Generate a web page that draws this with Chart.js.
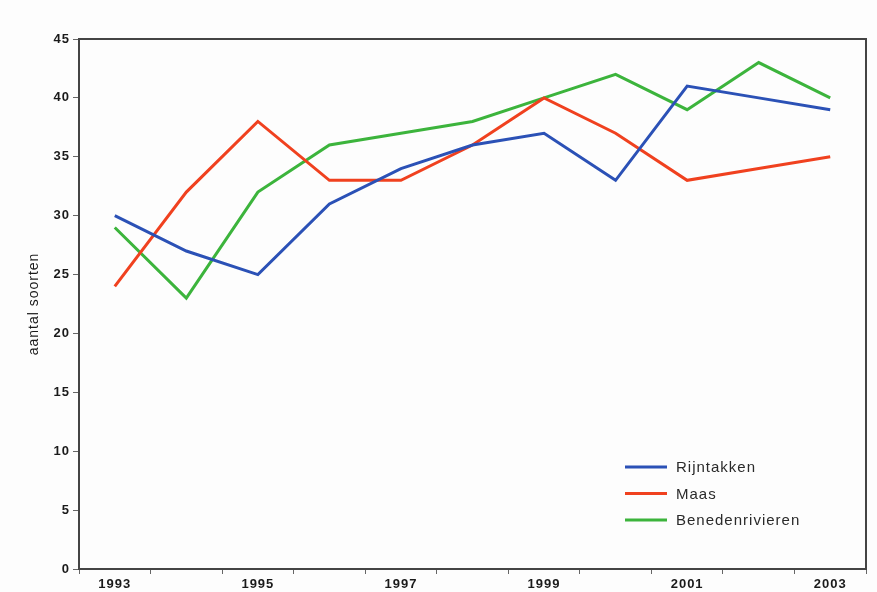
<!DOCTYPE html>
<html>
<head>
<meta charset="utf-8">
<script src="https://cdn.jsdelivr.net/npm/chart.js@4"></script>
<style>
    html, body { margin: 0; padding: 0; background: #fdfdfd; }
    #wrap { width: 877px; height: 592px; }
</style>
</head>
<body>
<div id="wrap"><canvas id="chart" width="877" height="592"></canvas></div>
<script>
// Years on the x axis
const years = ['1993', '1994', '1995', '1996', '1997', '1998', '1999', '2000', '2001', '2002', '2003'];

// Number of species per river area
const rijntakken = [30, 27, 25, 31, 34, 36, 37, 33, 41, 40, 39];
const maas = [24, 32, 38, 33, 33, 36, 40, 37, 33, 34, 35];
const benedenrivieren = [29, 23, 32, 36, 37, 38, 40, 42, 39, 43, 40];

const seriesNames = ['Rijntakken', 'Maas', 'Benedenrivieren'];
const seriesColors = ['#2b51b6', '#f0411f', '#3cb43c'];

const fontFamily = '"Liberation Sans", Arial, sans-serif';

// The original text is set wide, so add a little letter spacing
const spacing = {
    id: 'spacing',
    beforeInit(chart) { chart.ctx.letterSpacing = '1px'; },
    beforeDraw(chart) { chart.ctx.letterSpacing = '1px'; }
};

// Frame round the plot area
const framePlugin = {
    id: 'frame',
    afterDraw(chart) {
        const a = chart.chartArea;
        const ctx = chart.ctx;
        ctx.save();
        ctx.strokeStyle = '#444';
        ctx.lineWidth = 2;
        ctx.strokeRect(a.left, a.top, a.right - a.left, a.bottom - a.top);
        ctx.restore();
    }
};

// Legend drawn inside the plot, bottom right
const insideLegend = {
    id: 'insideLegend',
    afterDatasetsDraw(chart) {
        const ctx = chart.ctx;
        const a = chart.chartArea;
        const x0 = a.left + 546;
        const y0 = a.top + 428;
        ctx.save();
        ctx.font = '15px ' + fontFamily;
        ctx.textBaseline = 'middle';
        chart.data.datasets.forEach((ds, i) => {
            const y = y0 + i * 26.5;
            ctx.strokeStyle = ds.borderColor;
            ctx.lineWidth = 3;
            ctx.beginPath();
            ctx.moveTo(x0, y);
            ctx.lineTo(x0 + 42, y);
            ctx.stroke();
            ctx.fillStyle = '#2a2a2a';
            ctx.fillText(ds.label, x0 + 51, y + 1);
        });
        ctx.restore();
    }
};

const ctx = document.getElementById('chart').getContext('2d');

new Chart(ctx, {
    type: 'line',
    data: {
        labels: years,
        datasets: [rijntakken, maas, benedenrivieren].map((values, i) => ({
            label: seriesNames[i],
            data: values,
            borderColor: seriesColors[i],
            backgroundColor: seriesColors[i],
            borderWidth: 3,
            pointRadius: 0,
            tension: 0,
            fill: false
        }))
    },
    options: {
        responsive: false,
        animation: false,
        layout: {
            padding: { left: 26, top: 39, right: 11, bottom: 0 }
        },
        scales: {
            x: {
                offset: true,
                grid: {
                    offset: true,
                    drawOnChartArea: false,
                    tickLength: 5,
                    color: '#666'
                },
                border: { display: false },
                ticks: {
                    autoSkip: false,
                    maxRotation: 0,
                    padding: 3,
                    color: '#1a1a1a',
                    font: { family: fontFamily, size: 13, weight: 'bold' },
                    callback: function (value, index) {
                        return index % 2 === 0 ? years[index] : '';
                    }
                },
                afterFit: function (scale) { scale.height = 23; }
            },
            y: {
                min: 0,
                max: 45,
                grid: {
                    drawOnChartArea: false,
                    tickLength: 6,
                    color: '#666'
                },
                border: { display: false },
                ticks: {
                    stepSize: 5,
                    padding: 3,
                    color: '#1a1a1a',
                    font: { family: fontFamily, size: 13, weight: 'bold' }
                },
                title: {
                    display: true,
                    text: 'aantal soorten',
                    color: '#1a1a1a',
                    padding: { top: 0, bottom: 4 },
                    font: { family: fontFamily, size: 14 }
                },
                afterFit: function (scale) { scale.width = 53; }
            }
        },
        plugins: {
            legend: { display: false },
            tooltip: { enabled: false }
        }
    },
    plugins: [spacing, framePlugin, insideLegend]
});
</script>
</body>
</html>
